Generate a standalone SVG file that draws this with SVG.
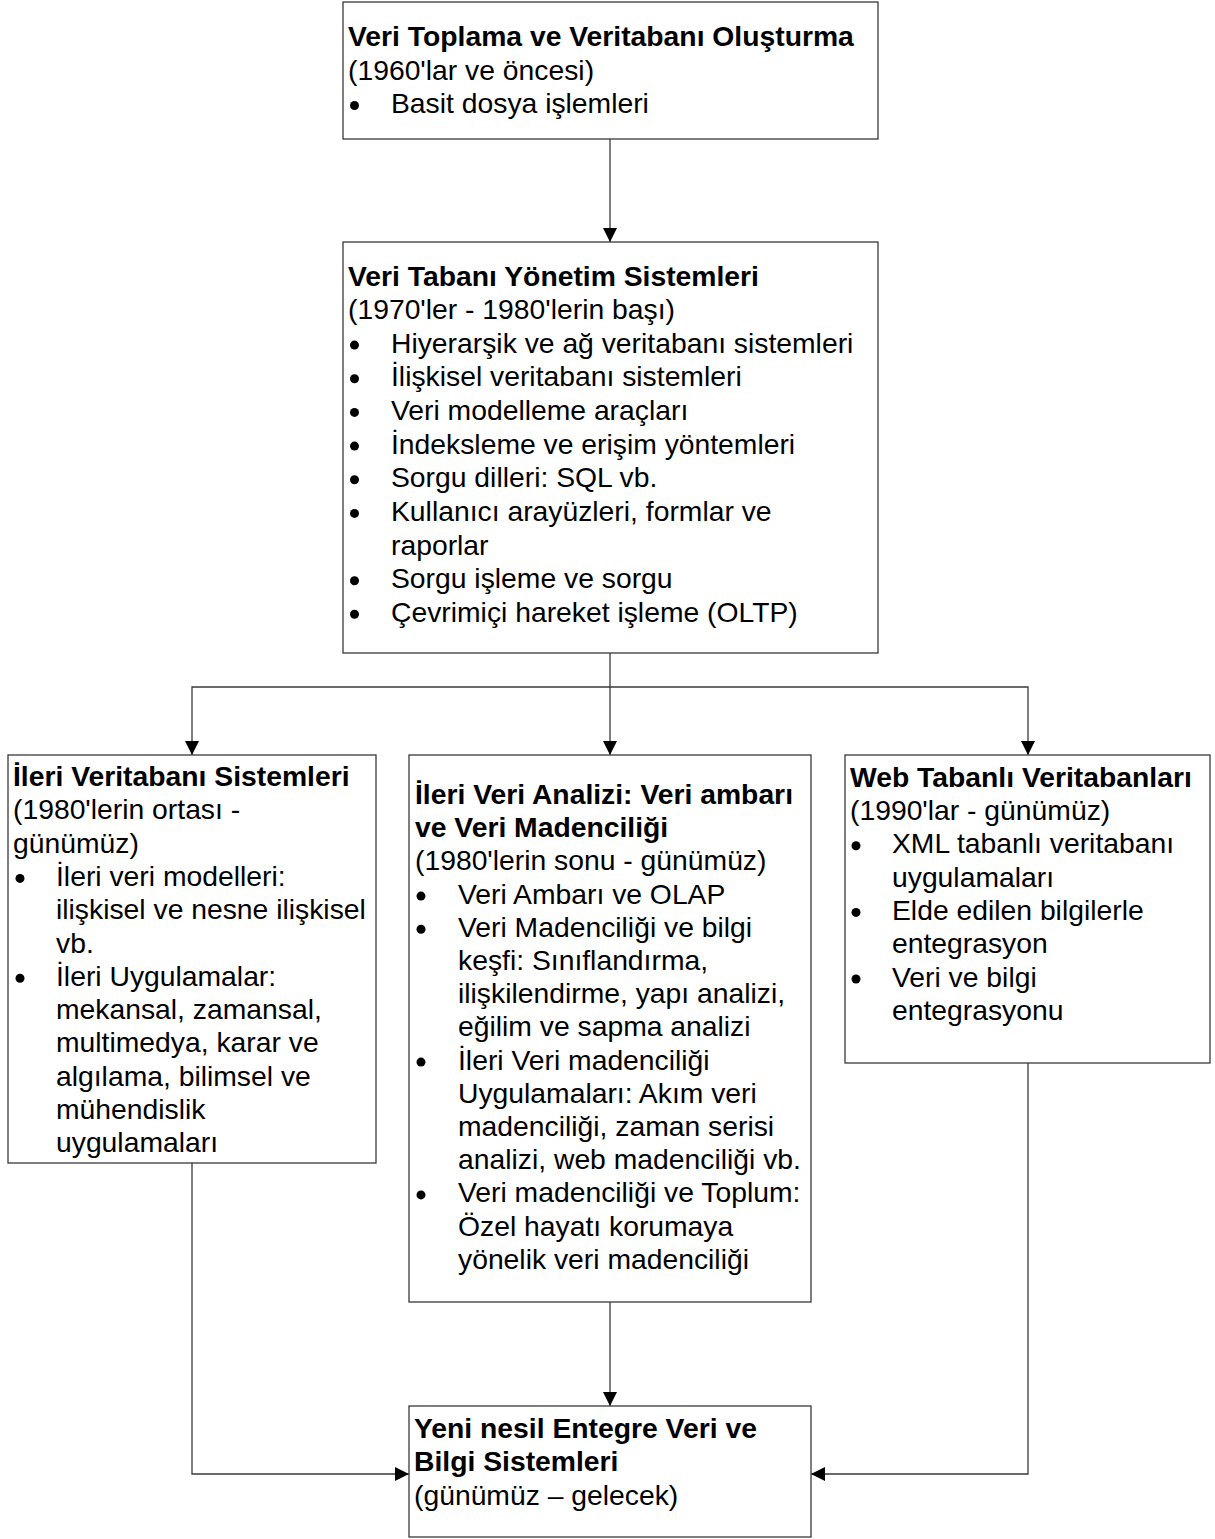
<svg xmlns="http://www.w3.org/2000/svg" width="1215" height="1539" viewBox="0 0 1215 1539">
  <style>
    text { font-family: "Liberation Sans", Arial, sans-serif; font-size: 28.3px; fill: #000; }
    .h { font-weight: bold; }
    .dot { fill: #000; }
    .box { fill: #fff; stroke: #3a3a3a; stroke-width: 1.3; }
    .wire { fill: none; stroke: #3a3a3a; stroke-width: 1.3; }
  </style>
  <defs>
    <marker id="arrow" markerUnits="userSpaceOnUse" markerWidth="14" markerHeight="14" viewBox="0 0 12 12" refX="12" refY="6" orient="auto">
      <path d="M0,0 L12,6 L0,12 Z" fill="#000"/>
    </marker>
  </defs>

  <rect x="0" y="0" width="1215" height="1539" fill="#fff"/>

  <!-- connectors -->
  <g id="connectors">
    <path class="wire" d="M610,139 V242" marker-end="url(#arrow)"/>
    <path class="wire" d="M610,653 V755" marker-end="url(#arrow)"/>
    <path class="wire" d="M610,687 H192 V755" marker-end="url(#arrow)"/>
    <path class="wire" d="M610,687 H1028 V755" marker-end="url(#arrow)"/>
    <path class="wire" d="M192,1163 V1474 H409" marker-end="url(#arrow)"/>
    <path class="wire" d="M610,1302 V1406" marker-end="url(#arrow)"/>
    <path class="wire" d="M1028,1063 V1474 H811" marker-end="url(#arrow)"/>
  </g>

  <!-- 1960s -->
  <g id="node-collection">
    <rect class="box" x="343" y="2" width="535" height="137"/>
    <text class="h" x="348" y="46">Veri Toplama ve Veritabanı Oluşturma</text>
    <text x="348" y="79.5">(1960'lar ve öncesi)</text>
    <circle class="dot" cx="354.5" cy="105.5" r="4.5"/>
    <text x="391" y="113">Basit dosya işlemleri</text>
  </g>

  <!-- 1970s - early 1980s -->
  <g id="node-dbms">
    <rect class="box" x="343" y="242" width="535" height="411"/>
    <text class="h" x="348" y="285.5">Veri Tabanı Yönetim Sistemleri</text>
    <text x="348" y="319">(1970'ler - 1980'lerin başı)</text>
    <g class="dot">
      <circle cx="354.5" cy="345.1" r="4.5"/>
      <circle cx="354.5" cy="378.8" r="4.5"/>
      <circle cx="354.5" cy="412.4" r="4.5"/>
      <circle cx="354.5" cy="446.1" r="4.5"/>
      <circle cx="354.5" cy="479.7" r="4.5"/>
      <circle cx="354.5" cy="513.4" r="4.5"/>
      <circle cx="354.5" cy="580.7" r="4.5"/>
      <circle cx="354.5" cy="614.3" r="4.5"/>
    </g>
    <text x="391" y="352.6">Hiyerarşik ve ağ veritabanı sistemleri</text>
    <text x="391" y="386.3">İlişkisel veritabanı sistemleri</text>
    <text x="391" y="419.9">Veri modelleme araçları</text>
    <text x="391" y="453.6">İndeksleme ve erişim yöntemleri</text>
    <text x="391" y="487.2">Sorgu dilleri: SQL vb.</text>
    <text x="391" y="520.9">Kullanıcı arayüzleri, formlar ve</text>
    <text x="391" y="554.5">raporlar</text>
    <text x="391" y="588.2">Sorgu işleme ve sorgu</text>
    <text x="391" y="621.8">Çevrimiçi hareket işleme (OLTP)</text>
  </g>

  <!-- advanced database systems -->
  <g id="node-advanced-db">
    <rect class="box" x="8" y="755" width="368" height="408"/>
    <text class="h" x="13" y="786">İleri Veritabanı Sistemleri</text>
    <text x="13" y="819.3">(1980'lerin ortası -</text>
    <text x="13" y="852.6">günümüz)</text>
    <circle class="dot" cx="20" cy="878.4" r="4.5"/>
    <circle class="dot" cx="20" cy="978.3" r="4.5"/>
    <text x="56" y="885.9">İleri veri modelleri:</text>
    <text x="56" y="919.2">ilişkisel ve nesne ilişkisel</text>
    <text x="56" y="952.5">vb.</text>
    <text x="56" y="985.8">İleri Uygulamalar:</text>
    <text x="56" y="1019.1">mekansal, zamansal,</text>
    <text x="56" y="1052.4">multimedya, karar ve</text>
    <text x="56" y="1085.7">algılama, bilimsel ve</text>
    <text x="56" y="1119">mühendislik</text>
    <text x="56" y="1152.3">uygulamaları</text>
  </g>

  <!-- data warehouse and data mining -->
  <g id="node-analysis">
    <rect class="box" x="409" y="755" width="402" height="547"/>
    <text class="h" x="415" y="804">İleri Veri Analizi: Veri ambarı</text>
    <text class="h" x="415" y="837.2">ve Veri Madenciliği</text>
    <text x="415" y="870.4">(1980'lerin sonu - günümüz)</text>
    <circle class="dot" cx="421" cy="896.1" r="4.5"/>
    <circle class="dot" cx="421" cy="929.3" r="4.5"/>
    <circle class="dot" cx="421" cy="1062.1" r="4.5"/>
    <circle class="dot" cx="421" cy="1194.9" r="4.5"/>
    <text x="458" y="903.6">Veri Ambarı ve OLAP</text>
    <text x="458" y="936.8">Veri Madenciliği ve bilgi</text>
    <text x="458" y="970">keşfi: Sınıflandırma,</text>
    <text x="458" y="1003.2">ilişkilendirme, yapı analizi,</text>
    <text x="458" y="1036.4">eğilim ve sapma analizi</text>
    <text x="458" y="1069.6">İleri Veri madenciliği</text>
    <text x="458" y="1102.8">Uygulamaları: Akım veri</text>
    <text x="458" y="1136">madenciliği, zaman serisi</text>
    <text x="458" y="1169.2">analizi, web madenciliği vb.</text>
    <text x="458" y="1202.4">Veri madenciliği ve Toplum:</text>
    <text x="458" y="1235.6">Özel hayatı korumaya</text>
    <text x="458" y="1268.8">yönelik veri madenciliği</text>
  </g>

  <!-- web based databases -->
  <g id="node-web">
    <rect class="box" x="845" y="755" width="365" height="308"/>
    <text class="h" x="850" y="786.7">Web Tabanlı Veritabanları</text>
    <text x="850" y="820">(1990'lar - günümüz)</text>
    <circle class="dot" cx="856" cy="845.8" r="4.5"/>
    <circle class="dot" cx="856" cy="912.4" r="4.5"/>
    <circle class="dot" cx="856" cy="979" r="4.5"/>
    <text x="892" y="853.3">XML tabanlı veritabanı</text>
    <text x="892" y="886.6">uygulamaları</text>
    <text x="892" y="919.9">Elde edilen bilgilerle</text>
    <text x="892" y="953.2">entegrasyon</text>
    <text x="892" y="986.5">Veri ve bilgi</text>
    <text x="892" y="1019.8">entegrasyonu</text>
  </g>

  <!-- next generation -->
  <g id="node-next-gen">
    <rect class="box" x="409" y="1406" width="402" height="131"/>
    <text class="h" x="414" y="1438">Yeni nesil Entegre Veri ve</text>
    <text class="h" x="414" y="1471.3">Bilgi Sistemleri</text>
    <text x="414" y="1504.6">(günümüz – gelecek)</text>
  </g>
</svg>
